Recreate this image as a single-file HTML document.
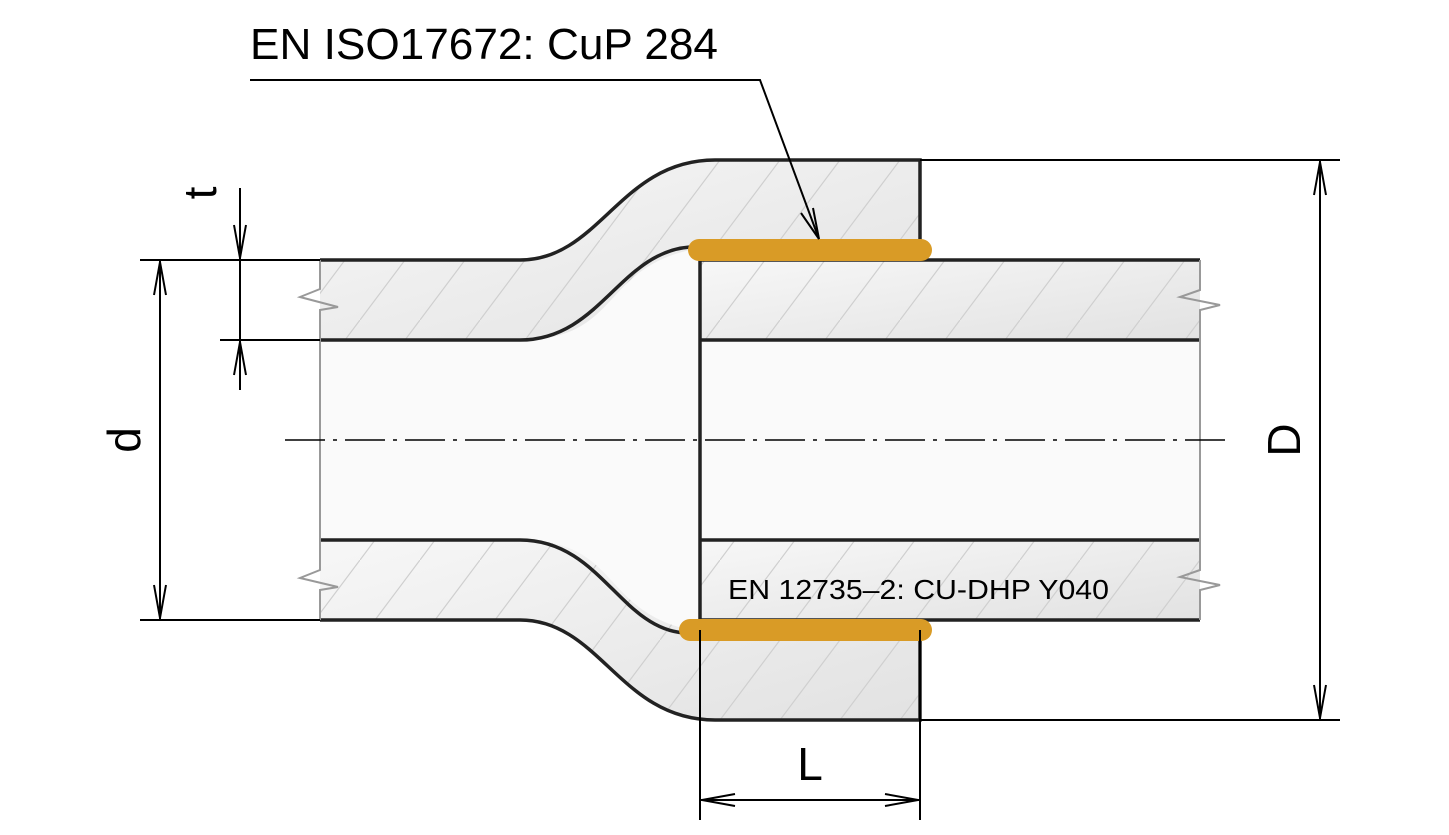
<!DOCTYPE html>
<html><head><meta charset="utf-8"><style>
html,body{margin:0;padding:0;background:#fff;}
svg{display:block;}
text{font-family:"Liberation Sans","DejaVu Sans",sans-serif;fill:#000;}
</style></head><body>
<svg width="1449" height="835" viewBox="0 0 1449 835" xmlns="http://www.w3.org/2000/svg">
<defs>
<linearGradient id="g" x1="0" y1="0" x2="1" y2="1">
<stop offset="0" stop-color="#f7f7f7"/><stop offset="1" stop-color="#e2e2e2"/>
</linearGradient>
<pattern id="h" patternUnits="userSpaceOnUse" width="60" height="80">
<line x1="0" y1="80" x2="60" y2="0" stroke="#cfcfcf" stroke-width="1.2"/>
</pattern>
</defs>

<!-- bore -->
<rect x="320" y="340" width="880" height="200" fill="#fafafa"/>
<path d="M520,340 C600,340 620,252 690,247 L700,247 V633 L684,633 C620,628 600,540 520,540 Z" fill="#fafafa"/>

<!-- pipe walls (right) -->
<rect x="700" y="260" width="500" height="80" fill="url(#g)"/>
<rect x="700" y="260" width="500" height="80" fill="url(#h)"/>
<rect x="700" y="540" width="500" height="80" fill="url(#g)"/>
<rect x="700" y="540" width="500" height="80" fill="url(#h)"/>

<!-- fitting top -->
<path d="M320,260 H520 C600,260 620,160 715,160 H920 V250 H690 C600,270 620,340 520,340 H320 Z" fill="url(#g)"/>
<path d="M320,260 H520 C600,260 620,160 715,160 H920 V250 H690 C600,270 620,340 520,340 H320 Z" fill="url(#h)"/>
<!-- fitting bottom -->
<path d="M320,620 H520 C600,620 620,720 715,720 H920 V630 H690 C600,610 620,540 520,540 H320 Z" fill="url(#g)"/>
<path d="M320,620 H520 C600,620 620,720 715,720 H920 V630 H690 C600,610 620,540 520,540 H320 Z" fill="url(#h)"/>

<!-- outlines -->
<g fill="none" stroke="#222" stroke-width="3.5">
<path d="M320,260 H520 C600,260 620,160 715,160 H920 V250"/>
<path d="M320,340 H520 C600,340 620,252 690,247"/>
<path d="M320,620 H520 C600,620 620,720 715,720 H920 V630"/>
<path d="M320,540 H520 C600,540 620,628 684,633"/>
<path d="M700,260 V620"/>
<path d="M700,260 H1200 M700,340 H1200 M700,540 H1200 M700,620 H1200"/>
</g>
<!-- break lines -->
<g fill="none" stroke="#999" stroke-width="2">
<path d="M320,260 V289 L300,297 L338,307 L320,310 V570 L300,578 L338,587 L320,590 V620"/>
<path d="M1200,260 V290 L1180,297 L1220,305 L1200,310 V570 L1180,577 L1220,585 L1200,590 V620"/>
</g>

<!-- brazing -->
<line x1="699" y1="250" x2="921" y2="250" stroke="#d99b26" stroke-width="22" stroke-linecap="round"/>
<line x1="690" y1="630" x2="921" y2="630" stroke="#d99b26" stroke-width="22" stroke-linecap="round"/>

<!-- centerline -->
<line x1="285" y1="440" x2="1230" y2="440" stroke="#000" stroke-width="1.5" stroke-dasharray="40,8,4,8"/>

<!-- dimensions -->
<g stroke="#000" stroke-width="2" fill="none">
<path d="M920,160 H1340 M920,720 H1340 M1320,160 V720"/>
<path d="M1314,195 L1320,162 L1326,195 M1314,685 L1320,718 L1326,685"/>
<path d="M140,260 H320 M140,620 H320 M160,260 V620"/>
<path d="M154,295 L160,262 L166,295 M154,585 L160,618 L166,585"/>
<path d="M220,340 H320 M240,188 V390"/>
<path d="M234,225 L240,258 L246,225 M234,375 L240,342 L246,375"/>
<path d="M700,630 V820 M920,630 V820 M700,800 H920"/>
<path d="M735,794 L702,800 L735,806 M885,794 L918,800 L885,806"/>
<path d="M250,80 H760 L819,239"/>
<path d="M801,213 L819,239 L813,208"/>
</g>

<!-- labels -->
<text x="250" y="59" font-size="44" textLength="468" lengthAdjust="spacingAndGlyphs">EN ISO17672: CuP 284</text>
<text x="728" y="599" font-size="28" textLength="381" lengthAdjust="spacingAndGlyphs">EN 12735–2: CU-DHP Y040</text>
<text x="810" y="780" font-size="46" text-anchor="middle">L</text>
<text transform="translate(1300,440) rotate(-90)" font-size="46" text-anchor="middle">D</text>
<text transform="translate(140,440) rotate(-90)" font-size="46" text-anchor="middle">d</text>
<text transform="translate(216,193) rotate(-90)" font-size="46" text-anchor="middle">t</text>
</svg>
</body></html>
